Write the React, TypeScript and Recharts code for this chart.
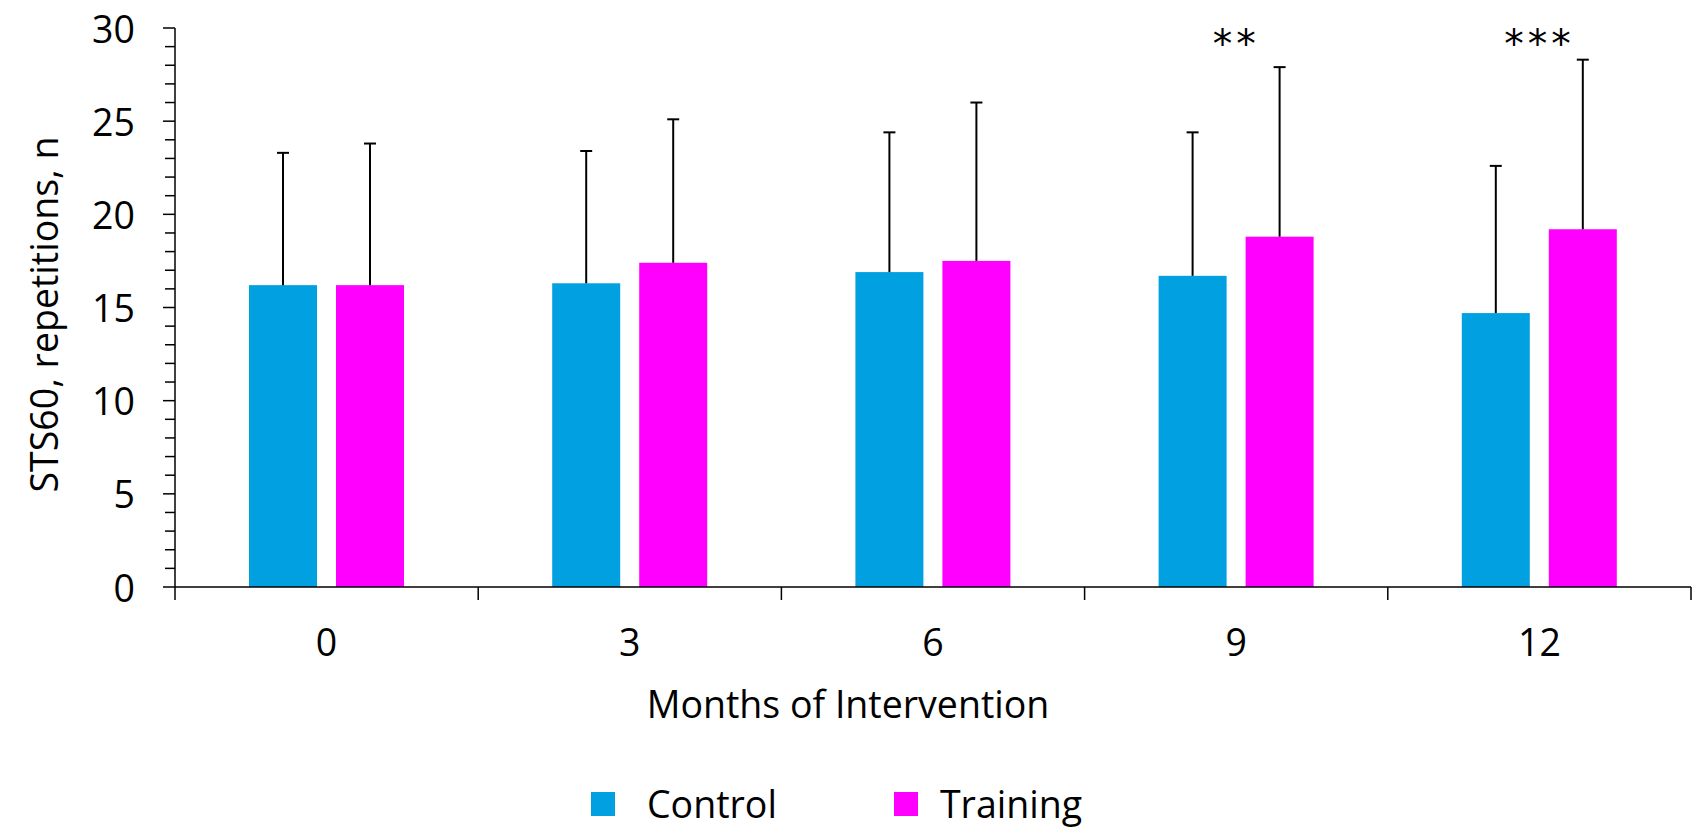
import { BarChart, Bar, XAxis, YAxis, Legend, ReferenceDot } from 'recharts';

const months = ['0', '3', '6', '9', '12'];
const controlMean = [16.2, 16.3, 16.9, 16.7, 14.7];
const controlSd = [7.1, 7.1, 7.5, 7.7, 7.9];
const trainingMean = [16.2, 17.4, 17.5, 18.8, 19.2];
const trainingSd = [7.6, 7.7, 8.5, 9.1, 9.1];
const significance = ['', '', '', '**', '***'];
const majorTicks = [0, 5, 10, 15, 20, 25, 30];
const yTicks = Array.from({ length: 31 }, (_, i) => i);

const CHART_W = 1696;
const CHART_H = 828;
const Y_AXIS_W = 175;
const MARGIN = { top: 28, right: 5, bottom: 101, left: 0 };
const X_AXIS_H = 100;
const LEGEND_H = 40;
const PLOT_W = CHART_W - Y_AXIS_W - MARGIN.left - MARGIN.right;

const CONTROL = '#00A0E1';
const TRAINING = '#FF00FF';
const FONT = '"Open Sans", sans-serif';
const FONT_SIZE = 37.5;

const data = months.map((month, i) => ({
  month,
  control: controlMean[i],
  controlSd: controlSd[i],
  training: trainingMean[i],
  trainingSd: trainingSd[i],
}));

// bar rect plus an upper-only SD whisker, scaled from the bar's own pixel height
const barWithError = (valueKey: string, sdKey: string) => (props: any) => {
  const { x, y, width, height, fill, payload } = props;
  const perUnit = height / payload[valueKey];
  const cx = x + width / 2;
  const top = y - payload[sdKey] * perUnit;
  return (
    <g>
      <rect x={x} y={y} width={width} height={height} fill={fill} />
      <line x1={cx} x2={cx} y1={y} y2={top} stroke="#000" strokeWidth={2} />
      <line x1={cx - 6} x2={cx + 6} y1={top} y2={top} stroke="#000" strokeWidth={2} />
    </g>
  );
};

const YTick = (props: any) => {
  const { x, y, payload } = props;
  const major = majorTicks.includes(payload.value);
  return (
    <g>
      <line x1={x - (major ? 12 : 10)} x2={x} y1={y} y2={y} stroke="#000" strokeWidth={1.5} />
      {major && (
        <text x={x - 40} y={y} textAnchor="end" dominantBaseline="central"
          fontFamily={FONT} fontSize={FONT_SIZE} fill="#000">
          {payload.value}
        </text>
      )}
    </g>
  );
};

// month label at the band centre, tick marks on the band edges
const XTick = (props: any) => {
  const { x, y, payload, index } = props;
  const band = PLOT_W / months.length;
  return (
    <g>
      <line x1={x - band / 2} x2={x - band / 2} y1={y} y2={y + 13} stroke="#000" strokeWidth={1.5} />
      {index === months.length - 1 && (
        <line x1={x + band / 2} x2={x + band / 2} y1={y} y2={y + 13} stroke="#000" strokeWidth={1.5} />
      )}
      <text x={x} y={y + 54} textAnchor="middle" dominantBaseline="central"
        fontFamily={FONT} fontSize={FONT_SIZE} fill="#000">
        {payload.value}
      </text>
    </g>
  );
};

const XLabel = (props: any) => (
  <text x={CHART_W / 2} y={props.viewBox.y + 116} textAnchor="middle" dominantBaseline="central"
    fontFamily={FONT} fontSize={FONT_SIZE} fill="#000">
    Months of Intervention
  </text>
);

const YLabel = (props: any) => {
  const cy = props.viewBox.y + props.viewBox.height / 2 + 7;
  return (
    <text x={43} y={cy} transform={`rotate(-90 43 ${cy})`} textAnchor="middle" dominantBaseline="central"
      fontFamily={FONT} fontSize={FONT_SIZE} fill="#000">
      STS60, repetitions, n
    </text>
  );
};

const legendItems = [
  { name: 'Control', color: CONTROL, gap: 32 },
  { name: 'Training', color: TRAINING, gap: 22 },
];

const LegendContent = () => (
  <div style={{ display: 'flex', alignItems: 'center', height: LEGEND_H, paddingLeft: 591,
    fontFamily: FONT, fontSize: FONT_SIZE, color: '#000' }}>
    {legendItems.map((item, i) => (
      <div key={item.name} style={{ display: 'flex', alignItems: 'center', marginLeft: i ? 117 : 0 }}>
        <span style={{ width: 24, height: 24, background: item.color, marginRight: item.gap }} />
        <span style={{ lineHeight: 1 }}>{item.name}</span>
      </div>
    ))}
  </div>
);

export default function App() {
  return (
    <div style={{ position: 'absolute', left: 0, top: 0, background: '#fff' }}>
      <BarChart width={CHART_W} height={CHART_H} data={data} margin={MARGIN} barSize={68} barGap={19}>
        <XAxis dataKey="month" height={X_AXIS_H} interval={0} tickLine={false} tickSize={0} tickMargin={0}
          axisLine={{ stroke: '#000', strokeWidth: 1.5 }} tick={<XTick />} label={XLabel} />
        <YAxis width={Y_AXIS_W} domain={[0, 30]} ticks={yTicks} interval={0} tickLine={false}
          tickSize={0} tickMargin={0} axisLine={{ stroke: '#000', strokeWidth: 1.5 }}
          tick={<YTick />} label={YLabel} />
        <Legend verticalAlign="bottom" content={<LegendContent />}
          wrapperStyle={{ top: 784, left: 0, width: CHART_W, height: LEGEND_H }} />
        <Bar dataKey="control" name="Control" fill={CONTROL} isAnimationActive={false}
          shape={barWithError('control', 'controlSd')} />
        <Bar dataKey="training" name="Training" fill={TRAINING} isAnimationActive={false}
          shape={barWithError('training', 'trainingSd')} />
        {significance.map((mark, i) =>
          mark ? (
            <ReferenceDot key={months[i]} x={months[i]} y={29.2} r={0} fill="none" stroke="none"
              label={{ value: mark, position: 'center', fontFamily: '"DejaVu Sans"', fontSize: 39,
                letterSpacing: 4, fill: '#000' }} />
          ) : null
        )}
      </BarChart>
    </div>
  );
}
